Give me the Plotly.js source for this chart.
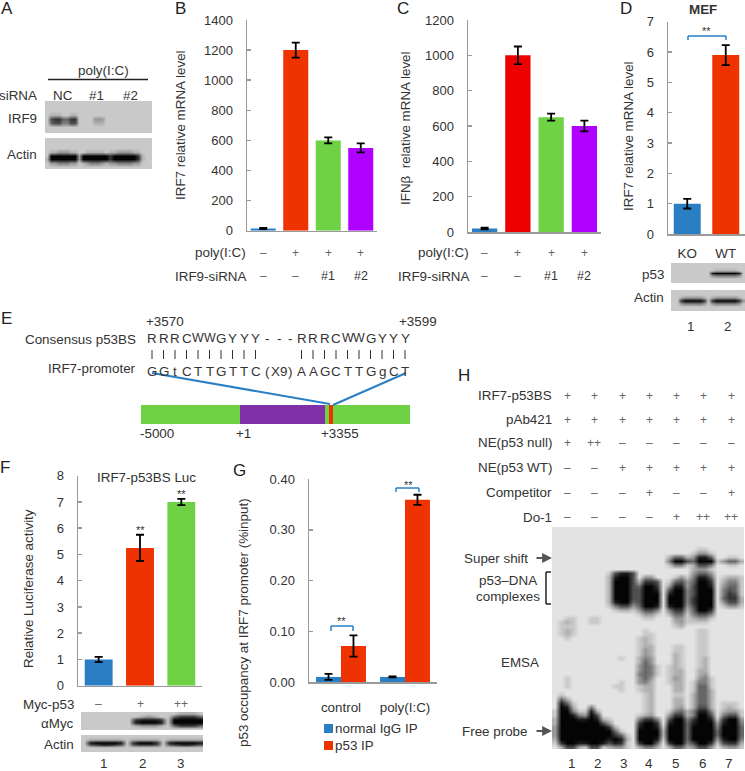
<!DOCTYPE html>
<html><head><meta charset="utf-8">
<script src="https://cdn.plot.ly/plotly-3.0.1.min.js"></script>
<style>html,body{margin:0;padding:0;background:#fff}#c{width:745px;height:771px}</style>
</head><body><div id="c"></div>
<script>
// ---- bar chart data ----
const siCats=['none','polyIC','si1','si2'];
const irf7Vals=[15,1200,600,550];
const irf7Err=[4,50,20,30];
const ifnbVals=[20,1000,650,600];
const ifnbErr=[5,50,20,30];
const mefCats=['KO','WT'];
const mefVals=[1,5.9];
const mefErr=[0.16,0.33];
const lucCats=['l1','l2','l3'];
const lucVals=[1,5.25,7];
const lucErr=[0.1,0.5,0.12];
const chipCats=['control','poly(I:C)'];
const chipIgG=[0.01,0.01];
const chipIgGErr=[0.006,0.001];
const chipP53=[0.071,0.359];
const chipP53Err=[0.021,0.01];
const geneSegments=[99,85,4,4,77];
// ---- table rows ----
const polyRow=['–','+','+','+'];
const siRow=['–','–','#1','#2'];
const lucRow=['–','+','++'];
const consensus='RRRCWWGYYY---RRRCWWGYYY'.split('');
const promoter=['G','G','t','C','T','T','G','T','T','C','(','X9',')','A','A','G','C','T','T','G','g','C','T'];
const hRows=[
 ['IRF7-p53BS',['+','+','+','+','+','+','+']],
 ['pAb421',['+','+','+','+','+','+','+']],
 ['NE(p53 null)',['+','++','–','–','–','–','–']],
 ['NE(p53 WT)',['–','–','+','+','+','+','+']],
 ['Competitor',['–','–','–','+','–','–','+']],
 ['Do-1',['–','–','–','–','+','++','++']]
];
// ---- blot densities, digits 0 (pale) to 9 (black) ----
const irf9Blot=[
"11111111 111 11111 11111111111","11111111 111 11111 11111111111","11111111 111 11111 11111111111",
"12221122 111 11111 11111111111","16775577 111 13331 11111111111","15664466 111 12221 11111111111",
"11111111 111 11111 11111111111","11111111 111 11111 11111111111"];
const actinA=[
"1 1111111 1 1111111 11111111 111","1 1111111 1 1111111 11111111 111","1 1111111 1 1111111 11111111 111",
"1 2233322 1 1222221 22333322 111","1 9999999 3 9999999 79999997 211","2 9999999 3 9999999 79999997 211",
"1 3344433 1 2344432 33444433 111","1 1111111 1 1111111 11111111 111"];
const p53Blot=[
"1111111111 11111111 1","1111111111 11111111 1","1111111111 12222221 1","1111111111 89999998 1",
"1111111111 34444443 1","1111111111 11111111 1","1111111111 11111111 1"];
const actinD=[
"11 1111111 1 11111111 1","11 1111111 1 11111111 1","11 2333332 1 23333332 1","11 7999997 1 79999997 3",
"11 3444443 1 34444443 1","11 1111111 1 11111111 1","11 1111111 1 11111111 1"];
const mycBlot=[
"11111111 11111 1 12221","11111111 12321 1 57775","11111111 78887 1 99999",
"11111111 89998 1 99999","11111111 23332 1 57775","11111111 11111 1 11111"];
const actinF=[
"1 111111 1 11111 1 111111","1 222222 1 22222 1 222222","1 899998 1 79997 1 899998",
"1 567765 1 56665 1 567765","1 111111 1 11111 1 111111","1 111111 1 11111 1 111111"];
const emsaGel=[
"0 0000 0000 0 0000 0000 0 0000 0000 0 0000","0 0000 0000 0 0000 0000 0 0000 0000 0 0000",
"0 0000 0000 0 0000 0000 0 0000 0000 0 0000","0 0000 0000 0 0000 0000 0 0000 0000 0 0000",
"0 0000 0000 0 0000 0000 0 0000 0000 0 0000","0 0000 0000 0 0000 0000 0 0000 0110 0 0000",
"0 0000 0000 0 0000 0000 0 0000 1331 0 0000","0 0000 0000 0 0000 0000 0 2552 3885 0 0110",
"0 0000 0000 0 0000 0000 0 4996 5999 1 3552","0 0000 0000 0 0000 0000 0 1441 2664 0 0110",
"0 0000 0000 0 0000 0000 0 0000 2331 0 0000","0 0000 0000 1 6886 0000 0 0000 3553 0 0000",
"0 0000 0000 2 8996 0330 0 0131 4885 0 1221","0 0000 0000 2 9996 2776 0 1563 5997 0 2441",
"0 0000 0000 2 9996 5997 0 3883 6998 0 3551","0 0000 0000 2 9996 6998 0 6994 6999 0 4651",
"0 0000 0000 2 9996 6999 0 8994 6999 0 4761","0 0000 0000 2 9996 6999 0 9994 7999 0 5772",
"0 0000 0000 2 8995 6999 0 9994 7999 0 3662","0 0000 0000 1 4663 5998 0 8993 6999 0 1331",
"0 0000 0000 0 1221 3664 0 4772 5997 0 0000","0 0000 0000 0 0000 1331 0 2551 4664 0 0000",
"0 0110 0110 0 0000 0110 0 0331 2331 0 0000","0 1210 0110 0 0000 0000 0 0231 1110 0 0000",
"0 1110 0000 0 0000 0000 0 0120 0000 0 0000","0 1210 0000 0 0000 0100 0 0000 0110 0 0000",
"0 1210 0000 0 0000 0110 0 0000 0110 0 0000","0 0100 0000 0 0000 1210 0 0000 0110 0 0000",
"0 0000 0000 0 0000 1210 0 0000 0110 0 0000","0 0000 0000 0 0000 1220 0 0110 0110 0 0000",
"0 0000 0000 0 0000 1320 0 0110 0110 0 0000","0 0000 0000 0 0000 1320 0 0210 0110 0 0000",
"0 0000 0000 0 0100 2430 0 0210 0120 0 0000","0 0000 0000 0 0000 2530 0 0210 0120 0 0000",
"0 0000 0000 0 0000 3541 0 1210 0120 0 0000","0 0000 0000 0 0000 3541 0 1220 0220 0 0000",
"0 0000 0000 0 0000 4541 0 1220 0230 0 0000","0 0100 0000 0 0000 3530 0 1320 0341 0 0000",
"0 0100 0000 0 0100 3420 0 1220 1441 0 0000","0 0100 0000 0 1100 1220 0 0220 1551 0 0000",
"0 0000 0000 0 0100 1220 0 0220 1552 0 0000","0 1000 0000 0 0000 0120 0 0110 2552 0 0000",
"0 5200 0000 0 0000 0120 0 0220 2552 0 0000","0 8510 0000 0 0000 0120 0 0220 2552 0 1110",
"0 9820 0400 0 0000 0120 0 0230 2662 0 1210","1 9941 1820 0 0000 0120 0 1452 4884 0 2331",
"1 9984 3960 0 0000 1230 0 3772 4996 0 4661","2 9998 8982 1 0000 4774 0 6994 7998 1 7993",
"2 9999 9996 3 0000 7997 0 8995 8999 3 8994","3 9999 9999 7 2000 8998 1 9995 9999 4 9995",
"3 9999 9999 9 5100 9999 2 9995 9999 5 9995","3 9999 9999 9 7510 9999 2 9995 9999 5 9995",
"2 9999 9999 8 9820 9998 1 9995 9999 3 8994","1 7998 8998 6 8710 7995 0 7994 6997 1 6772",
"0 2662 1661 2 3310 2442 0 2552 3663 0 2331"];

// ---- styles ----
const BLUE='#2a7fc4',RED='#ee3300',PURE='#ee0000',GREEN='#6fd244',PURP='#b000ff',TXT='#333333',AXC='#9a9a9a',SIGN='#666666';
const FONT='"Liberation Sans", Arial, sans-serif';
const W=745,H=771;
const X=p=>p/W, Y=p=>1-p/H;
const traces=[],shapes=[],annos=[],layout={};
let n=0;

function txt(t,x,y,o){o=o||{};annos.push({text:t,x:o.xref?x:X(x),y:Y(y),xref:o.xref||'paper',yref:'paper',
  xanchor:o.a||'center',yanchor:'middle',showarrow:false,textangle:o.rot||0,
  font:{family:FONT,size:o.s||13.4,color:o.c||TXT},borderpad:0});}
function line(x0,y0,x1,y1,c,w){shapes.push({type:'line',xref:'paper',yref:'paper',x0:X(x0),y0:Y(y0),x1:X(x1),y1:Y(y1),line:{color:c,width:w}});}
function bracket(x0,x1,yt,yb){[[x0,yb,x0,yt],[x0,yt,x1,yt],[x1,yt,x1,yb]].forEach(s=>line(s[0],s[1],s[2],s[3],BLUE,1.5));}

function newAxes(l,r,t,b,xo,yo){n++;const s=n===1?'':n;
  layout['xaxis'+s]=Object.assign({domain:[X(l),X(r)],anchor:'y'+s,fixedrange:true},xo);
  layout['yaxis'+s]=Object.assign({domain:[Y(b),Y(t)],anchor:'x'+s,fixedrange:true},yo);
  return {x:'x'+s,y:'y'+s};}

function barAxes(l,r,t,b,yMax,dtick,cats,o){o=o||{};
  return newAxes(l,r,t,b,{type:'category',categoryorder:'array',categoryarray:cats,range:[-0.5,cats.length-0.5],
    showline:true,linecolor:AXC,linewidth:1.5,ticks:'',showticklabels:!!o.xlabels,showgrid:false,zeroline:false,
    tickfont:{family:FONT,size:13.4,color:TXT},ticklabelstandoff:o.xoff||0},
   {range:[0,yMax],dtick:dtick,tickformat:o.fmt||'',showline:true,linecolor:AXC,linewidth:1.5,ticks:'inside',ticklen:4,tickcolor:AXC,tickwidth:1.5,
    showgrid:false,zeroline:false,tickfont:{family:FONT,size:13,color:TXT},ticklabelstandoff:10});}

function bars(ax,cats,vals,errs,colors,width,extra){
  traces.push(Object.assign({type:'bar',x:cats,y:vals,xaxis:ax.x,yaxis:ax.y,width:width,showlegend:false,hoverinfo:'skip',
    marker:{color:colors},
    error_y:{type:'data',array:errs,visible:true,color:'#000',thickness:1.8,width:4}},extra||{}));}

function blot(rows,l,r,t,b){
  const z=rows.map(s=>s.replace(/ /g,'').split('').map(Number));
  const ax=newAxes(l,r,t,b,{visible:false,range:[-0.5,z[0].length-0.5]},{visible:false,range:[z.length-0.5,-0.5]});
  traces.push({type:'heatmap',z:z,xaxis:ax.x,yaxis:ax.y,zmin:0,zmax:9,zsmooth:'best',showscale:false,hoverinfo:'skip',
    colorscale:[[0,'#e3e3e3'],[0.111,'#c9c9c9'],[1,'#040404']]});}

function signRow(ax,cats,vals,y){vals.forEach((v,i)=>{const hash=v[0]==='#';
  txt(v,cats[i],y,{xref:ax.x,s:hash?12.5:12,c:hash?TXT:SIGN});});}

// ---- panel letters ----
[['A',7,9],['B',180,9],['C',403,9],['D',626,9],['E',6,318],['F',5,468],['G',239,470],['H',464,375]].forEach(p=>txt(p[0],p[1],p[2],{s:17,c:'#222'}));

// ---- A ----
txt('poly(I:C)',104,70);
line(48,79.5,148,79.5,'#222',1.5);
txt('siRNA',38,95,{a:'right'});txt('NC',63,95);txt('#1',96,95);txt('#2',130,95);
txt('IRF9',38,118,{a:'right'});txt('Actin',38,155,{a:'right'});
blot(irf9Blot,45,152,101,133);
blot(actinA,45,152,138,169);

// ---- B ----
const axB=barAxes(247,377,20,230.7,1400,200,siCats);
bars(axB,siCats,irf7Vals,irf7Err,[BLUE,RED,GREEN,PURP],0.77);
txt('IRF7 relative mRNA level',181,125,{rot:-90});
txt('poly(I:C)',247,253,{a:'right'});txt('IRF9-siRNA',247,276,{a:'right'});
signRow(axB,siCats,polyRow,253);signRow(axB,siCats,siRow,276);

// ---- C ----
const axC=barAxes(468,601,20,232,1200,200,siCats);
bars(axC,siCats,ifnbVals,ifnbErr,[BLUE,PURE,GREEN,PURP],0.76);
txt('IFNβ  relative mRNA level',406,128,{rot:-90});
txt('poly(I:C)',470,253,{a:'right'});txt('IRF9-siRNA',470,276,{a:'right'});
signRow(axC,siCats,polyRow,253);signRow(axC,siCats,siRow,276);

// ---- D ----
const axD=barAxes(668,745,21.7,234,7,1,mefCats,{xlabels:true,xoff:6});
bars(axD,mefCats,mefVals,mefErr,[BLUE,RED],0.7);
txt('IRF7 relative mRNA level',628,136,{rot:-90});
txt('<b>MEF</b>',703,10);
bracket(688,726,36,40);txt('**',706,31,{s:11});
txt('p53',665,274,{a:'right'});txt('Actin',665,298,{a:'right'});
blot(p53Blot,671,745,263,283);
blot(actinD,671,745,290,311);
txt('1',690,326);txt('2',727,326);

// ---- E ----
txt('+3570',165,321);txt('+3599',418,321);
txt('Consensus p53BS',137,339,{a:'right'});
txt('IRF7-promoter',137,368,{a:'right'});
consensus.forEach((c,i)=>{const x=152+11.5*i;txt(c,x,338,{s:c==='W'?12.4:13.4});
  if(c!=='-')line(x,350,x,359,'#333',1);});
promoter.forEach((c,i)=>{txt(c,152+11.5*i,371);});
const axE=newAxes(141,410,405,424,{visible:false,range:[0,269]},{visible:false,range:[-0.5,0.5]});
let gb=0;
geneSegments.forEach((v,i)=>{traces.push({type:'bar',orientation:'h',y:[0],x:[v],base:[gb],width:1,xaxis:axE.x,yaxis:axE.y,showlegend:false,hoverinfo:'skip',
  marker:{color:[GREEN,'#8030a8',GREEN,RED,GREEN][i]}});gb+=v;});
line(152,373,330,404,BLUE,2);line(406,373,333,405,BLUE,2);
txt('-5000',157,433);txt('+1',243,433);txt('+3355',340,433);

// ---- F ----
const axF=barAxes(78,202,475.7,685.7,8,1,lucCats);
bars(axF,lucCats,lucVals,lucErr,[BLUE,RED,GREEN],0.675);
txt('Relative Luciferase activity',28,589,{rot:-90});
txt('IRF7-p53BS Luc',146,477);
txt('**',lucCats[1],530,{xref:axF.x,s:11});txt('**',lucCats[2],494,{xref:axF.x,s:11});
txt('Myc-p53',75,704,{a:'right'});signRow(axF,lucCats,lucRow,704);
txt('αMyc',75,723,{a:'right'});txt('Actin',75,744,{a:'right'});
blot(mycBlot,81,203,712,730);
blot(actinF,81,203,735,752);
txt('1',104,763);txt('2',142,763);txt('3',180,763);

// ---- G ----
const axG=barAxes(309,437,479,682,0.4,0.1,chipCats,{xlabels:true,xoff:12,fmt:'.2f'});
bars(axG,chipCats,chipIgG,chipIgGErr,BLUE,0.39,{offset:-0.39});
bars(axG,chipCats,chipP53,chipP53Err,RED,0.39,{offset:0});
txt('p53 occupancy at IRF7 promoter (%input)',243,623,{rot:-90});
bracket(331,353,626,631);txt('**',341,621,{s:11});
bracket(396,419,488,492);txt('**',408,485,{s:11});
shapes.push({type:'rect',xref:'paper',yref:'paper',x0:X(324),x1:X(333),y0:Y(733),y1:Y(724),fillcolor:BLUE,line:{width:0}});
shapes.push({type:'rect',xref:'paper',yref:'paper',x0:X(324),x1:X(333),y0:Y(750),y1:Y(741),fillcolor:RED,line:{width:0}});
txt('normal IgG IP',334,728,{a:'left'});txt('p53 IP',334,745,{a:'left'});

// ---- H ----
const hLanes=[567,594,622,649,676,703,731];
const hY=[396,420,443,468,493,517];
hRows.forEach((r,i)=>{txt(r[0],553,hY[i],{a:'right'});r[1].forEach((v,j)=>txt(v,hLanes[j],hY[i],{s:12,c:SIGN}));});
blot(emsaGel,552,744,527,749);
txt('Super shift',529,558,{a:'right'});
txt('p53–DNA',508,580);txt('complexes',508,596);
txt('EMSA',520,662);txt('Free probe',529,731,{a:'right'});
[[558],[731]].forEach(p=>annos.push({text:'',x:X(552),y:Y(p[0]),xref:'paper',yref:'paper',axref:'pixel',ayref:'pixel',ax:-17,ay:0,showarrow:true,arrowhead:2,arrowsize:1.1,arrowwidth:1.8,arrowcolor:'#555'}));
[[551,572,546,572],[546,572,546,604],[546,604,551,604]].forEach(s=>line(s[0],s[1],s[2],s[3],'#222',1.5));
['1','2','3','4','5','6','7'].forEach((v,i)=>txt(v,[571,597,623,649,675,702,728][i],763));

Object.assign(layout,{width:W,height:H,margin:{l:0,r:0,t:0,b:0,pad:0},paper_bgcolor:'#fff',plot_bgcolor:'rgba(0,0,0,0)',
  showlegend:false,barmode:'overlay',font:{family:FONT,color:TXT},shapes:shapes,annotations:annos});
Plotly.newPlot('c',traces,layout,{displayModeBar:false,staticPlot:true});
</script></body></html>
